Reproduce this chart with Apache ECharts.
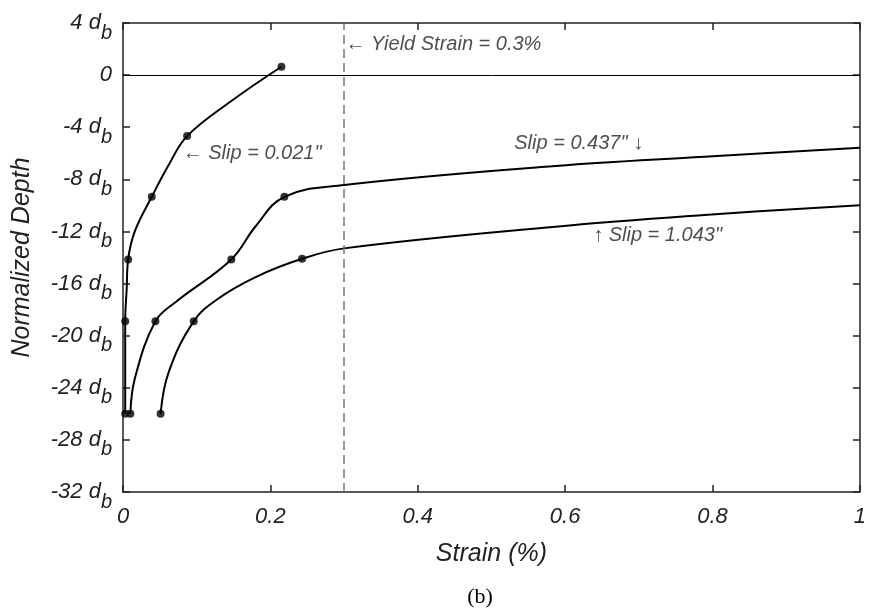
<!DOCTYPE html>
<html><head><meta charset="utf-8">
<script src="https://cdn.jsdelivr.net/npm/echarts@6/dist/echarts.min.js"></script>
<style>html,body{margin:0;padding:0;background:#fff}#c{width:869px;height:611px}</style>
</head><body><div id="c"></div>
<script>
// ---- data ----
const xMin = 0, xMax = 1, xStep = 0.2;
const yMin = -32, yMax = 4, yStep = 4;
const yieldStrain = 0.3;
const zeroDepth = 0;

// Slip = 0.021"
const slip021Markers = [[0.003,-26],[0.003,-18.9],[0.007,-14.15],[0.039,-9.34],[0.087,-4.68],[0.215,0.64]];
const slip021Shape   = [[0.005,-16.4],[0.016,-12.0],[0.062,-6.9],[0.148,-1.95]];
// Slip = 0.437"
const slip437Markers = [[0.010,-26],[0.044,-18.9],[0.147,-14.15],[0.219,-9.34]];
const slip437Shape   = [[0.016,-23.3],[0.072,-17.4],[0.18,-11.6],[0.3,-8.44],[0.587,-6.98],[0.789,-6.27],[1,-5.58]];
// Slip = 1.043"
const slip1043Markers = [[0.051,-26],[0.096,-18.9],[0.243,-14.1]];
const slip1043Shape   = [[0.062,-22.8],[0.128,-17.2],[0.18,-15.5],[0.3,-13.3],[0.587,-11.64],[0.789,-10.74],[1,-9.98]];

const annotations = [
  [0.302, 2.38, '\u2190 Yield Strain = 0.3%'],
  [0.081, -5.99, '\u2190 Slip = 0.021"'],
  [0.531, -5.24, 'Slip = 0.437" \u2193'],
  [0.638, -12.28, '\u2191 Slip = 1.043"']
];
const xTitle = 'Strain (%)';
const yTitle = 'Normalized Depth';
const panelLabel = '(b)';

// ---- chart ----
const ink = '#222222';
const font = '"Liberation Sans", Arial, sans-serif';
function path(markers, shape){ return markers.concat(shape).sort((a,b)=>a[1]-b[1]); }

const chart = echarts.init(document.getElementById('c'), null, {renderer:'canvas'});
const axisLineStyle = {color: ink, width: 1.5};
const lineSeries = (name, m, s) => ({
  name, type:'line', data: path(m, s), smooth: 0.4, symbol:'none',
  lineStyle:{color:'#000', width:2}, z:3, silent:true, animation:false
});
const markerSeries = (name, m) => ({
  name: name + ' pts', type:'scatter', data: m, symbolSize: 8,
  itemStyle:{color:'#000'}, z:4, silent:true, animation:false
});
const axisBase = {
  type:'value', splitLine:{show:false},
  axisLine:{show:true, onZero:false, lineStyle:axisLineStyle},
  axisTick:{show:true, inside:true, length:7, lineStyle:axisLineStyle}
};

chart.setOption({
  animation:false,
  backgroundColor:'#fff',
  grid:{left:123, right:2, top:23, bottom:119, containLabel:false},
  xAxis:[
    Object.assign({}, axisBase, {min:xMin, max:xMax, interval:xStep, position:'bottom',
     axisLabel:{color:ink, fontSize:22, fontStyle:'italic', fontFamily:font, margin:14,
                formatter: v => String(+v.toFixed(1))},
     name:xTitle, nameLocation:'middle', nameGap:50,
     nameTextStyle:{color:ink, fontSize:25, fontStyle:'italic', fontFamily:font}}),
    Object.assign({}, axisBase, {min:xMin, max:xMax, interval:xStep, position:'top',
     axisLabel:{show:false}})
  ],
  yAxis:[
    Object.assign({}, axisBase, {min:yMin, max:yMax, interval:yStep, position:'left',
     axisLabel:{color:ink, fontSize:22, fontStyle:'italic', fontFamily:font, margin:11,
       formatter: v => v === 0 ? '{m|0}' : '{m|' + v + ' d}{s|b}',
       rich:{
         m:{fontSize:22, fontStyle:'italic', fontFamily:font, color:ink, lineHeight:24},
         s:{fontSize:20, fontStyle:'italic', fontFamily:font, color:ink, lineHeight:22, padding:[20,0,0,0]}
       }},
     name:yTitle, nameLocation:'middle', nameGap:88, nameRotate:90,
     nameTextStyle:{color:ink, fontSize:25, fontStyle:'italic', fontFamily:font}}),
    Object.assign({}, axisBase, {min:yMin, max:yMax, interval:yStep, position:'right',
     axisLabel:{show:false}})
  ],
  graphic:[{type:'text', style:{text:panelLabel, x:480, y:597, textAlign:'center', textVerticalAlign:'middle',
     font:'22px "Liberation Serif", "Times New Roman", serif', fill:'#000'}}],
  series:[
    lineSeries('Slip 0.021', slip021Markers, slip021Shape),
    lineSeries('Slip 0.437', slip437Markers, slip437Shape),
    lineSeries('Slip 1.043', slip1043Markers, slip1043Shape),
    markerSeries('Slip 0.021', slip021Markers),
    markerSeries('Slip 0.437', slip437Markers),
    markerSeries('Slip 1.043', slip1043Markers),
    {name:'annotations', type:'scatter', data:annotations, symbolSize:0, silent:true, z:5,
     label:{show:true, position:'right', distance:0, formatter:p => p.data[2],
            color:ink, fontSize:20, fontStyle:'italic', fontFamily:font},
     markLine:{silent:true, symbol:'none', animation:false, label:{show:false},
       data:[
         {yAxis:zeroDepth, lineStyle:{color:'#000', width:1, type:'solid'}},
         {xAxis:yieldStrain, lineStyle:{color:'#777', width:1.5, type:[9,5]}}
       ]}}
  ]
});
</script></body></html>
